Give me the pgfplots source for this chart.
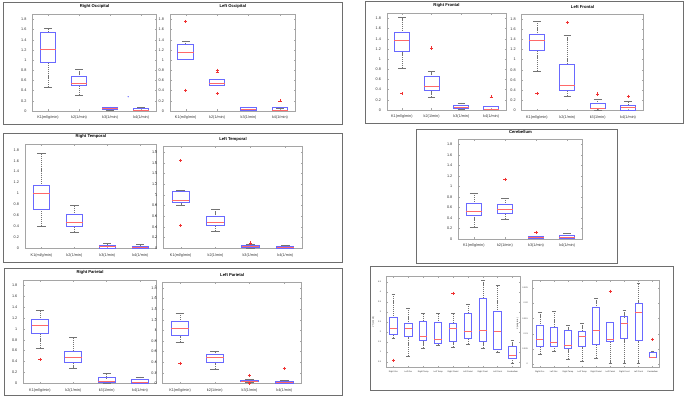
\documentclass[border=0pt]{standalone}
\usepackage{pgfplots}
\pgfplotsset{compat=1.18}
\usepgfplotslibrary{statistics}
\usepackage{fontspec}
\setmainfont{Liberation Sans}
\definecolor{bbox}{RGB}{105,105,255}
\definecolor{rmed}{RGB}{255,105,105}
\definecolor{rout}{RGB}{240,50,50}
\definecolor{wh}{RGB}{115,115,115}
\definecolor{frm}{RGB}{110,110,110}
\definecolor{axc}{RGB}{165,165,165}
\pgfplotsset{
  boxplot/draw/lower whisker/.code={%
    \draw[wh,dash pattern=on 1.2bp off 0.9bp,line width=0.45bp]
      (boxplot box cs:\pgfplotsboxplotvalue{lower whisker},0.5) --
      (boxplot box cs:\pgfplotsboxplotvalue{lower quartile},0.5);
    \draw[wh,line width=0.5bp]
      (boxplot whisker cs:\pgfplotsboxplotvalue{lower whisker},0) --
      (boxplot whisker cs:\pgfplotsboxplotvalue{lower whisker},1);
  },
  boxplot/draw/upper whisker/.code={%
    \draw[wh,dash pattern=on 1.2bp off 0.9bp,line width=0.45bp]
      (boxplot box cs:\pgfplotsboxplotvalue{upper whisker},0.5) --
      (boxplot box cs:\pgfplotsboxplotvalue{upper quartile},0.5);
    \draw[wh,line width=0.5bp]
      (boxplot whisker cs:\pgfplotsboxplotvalue{upper whisker},0) --
      (boxplot whisker cs:\pgfplotsboxplotvalue{upper whisker},1);
  },
  boxplot/draw/box/.code={%
    \draw[bbox,line width=1bp]
      (boxplot box cs:\pgfplotsboxplotvalue{lower quartile},0) rectangle
      (boxplot box cs:\pgfplotsboxplotvalue{upper quartile},1);
  },
  boxplot/draw/median/.code={%
    \draw[rmed,line width=0.9bp]
      (boxplot box cs:\pgfplotsboxplotvalue{median},0) --
      (boxplot box cs:\pgfplotsboxplotvalue{median},1);
  },
  bx/.style={boxplot/draw direction=y, boxplot/box extend=0.5, boxplot/whisker extend=0.25,
    color=rout, mark=+, mark size=1.6bp, mark options={solid, draw=rout, line width=0.5bp}},
  common/.style={
    scale only axis, anchor=south west,
    tick align=inside, major tick length=1.5bp,
    tick style={axc, line width=0.4bp},
    axis line style={axc, line width=0.6bp},
    scaled y ticks=false,
  },
  kax/.style={common,
    xmin=0.5, xmax=4.5, ymin=0, ymax=1.9,
    xtick={1,2,3,4}, xticklabels={K1(ml/g/min),k2(1/min),k3(1/min),k4(1/min)},
    ytick={0,0.2,0.4,0.6,0.8,1,1.2,1.4,1.6,1.8},
    yticklabels={0,0.2,0.4,0.6,0.8,1,1.2,1.4,1.6,1.8},
    ticklabel style={font=\fontsize{3.8}{4}\selectfont, text=black!80},
    xticklabel style={yshift=-1.5bp},
    yticklabel style={xshift=-2.5bp},
    title style={font=\fontsize{4.2}{5}\selectfont\bfseries, yshift=-1.5bp, inner sep=1bp},
  },
  fax/.style={common,
    xmin=0.5, xmax=9.5, xtick={1,2,3,4,5,6,7,8,9},
    xticklabels={Right Occ,Left Occ,Right Temp,Left Temp,Right Pariet,Left Pariet,Right Front,Left Front,Cerebellum},
    ticklabel style={font=\fontsize{2.1}{2.5}\selectfont, text=black!80},
    label style={font=\fontsize{2.1}{2.5}\selectfont, text=black!80},
    xticklabel style={yshift=-0.5bp},
    yticklabel style={xshift=-1.5bp},
    ylabel style={yshift=-3bp},
  },
}
\newcommand{\bx}[7]{\addplot[bx, boxplot prepared={draw position=#1, lower whisker=#2, lower quartile=#3, median=#4, upper quartile=#5, upper whisker=#6}] coordinates {#7};}
\begin{document}
\begin{tikzpicture}
\useasboundingbox (0,0) rectangle (685bp,404bp);
\fill[white] (0,0) rectangle (685bp,404bp);
% panel frames
\draw[frm, line width=0.8bp] (3bp,280bp) rectangle (342bp,402bp);
\draw[frm, line width=0.8bp] (365bp,281bp) rectangle (683bp,403bp);
\draw[frm, line width=0.8bp] (3bp,142bp) rectangle (342bp,271bp);
\draw[frm, line width=0.8bp] (416bp,141bp) rectangle (617bp,275bp);
\draw[frm, line width=0.8bp] (4bp,9bp) rectangle (342bp,136bp);
\draw[frm, line width=0.8bp] (370bp,14bp) rectangle (673bp,138bp);

% Right Occipital
\begin{axis}[kax, at={(32.5bp,293bp)}, width=124.2bp, height=96.7bp, title={Right Occipital}]
\bx{1}{0.47}{0.96}{1.2}{1.55}{1.62}{}
\bx{2}{0.31}{0.5}{0.55}{0.68}{0.82}{}
\bx{3}{0.01}{0.02}{0.045}{0.07}{0.08}{}
\bx{4}{0}{0}{0.006}{0.045}{0.078}{}
\addplot[only marks, mark=*, mark size=0.35bp, bbox] coordinates {(3.58,0.28)};
\end{axis}
% Left Occipital
\begin{axis}[kax, at={(170bp,293bp)}, width=125.7bp, height=96.7bp, title={Left Occipital}]
\bx{1}{1.01}{1.01}{1.15}{1.31}{1.38}{(0,1.76) (0,0.41)}
\bx{2}{0.5}{0.51}{0.54}{0.61}{0.62}{(0,0.8) (0,0.77) (0,0.34)}
\bx{3}{0}{0.01}{0.03}{0.06}{0.08}{}
\bx{4}{0}{0}{0.005}{0.06}{0.06}{(0,0.2)}
\end{axis}
% Right Frontal
\begin{axis}[kax, at={(387bp,294bp)}, width=119bp, height=96.7bp, title={Right Frontal}]
\bx{1}{0.82}{1.15}{1.36}{1.53}{1.82}{(0,0.32)}
\bx{2}{0.26}{0.38}{0.46}{0.66}{0.76}{(0,1.22)}
\bx{3}{0.01}{0.03}{0.05}{0.09}{0.14}{}
\bx{4}{0}{0}{0.02}{0.06}{0.07}{(0,0.26)}
\end{axis}
% Left Frontal
\begin{axis}[kax, at={(521.7bp,293.7bp)}, width=121.6bp, height=96.3bp, title={Left Frontal}]
\bx{1}{0.77}{1.18}{1.37}{1.5}{1.76}{(0,0.33)}
\bx{2}{0.28}{0.39}{0.49}{0.91}{1.48}{(0,1.74)}
\bx{3}{0}{0.03}{0.04}{0.13}{0.22}{(0,0.32)}
\bx{4}{0}{0}{0.05}{0.1}{0.17}{(0,0.28)}
\end{axis}
% Right Temporal
\begin{axis}[kax, at={(25bp,155.7bp)}, width=131.7bp, height=104bp, title={Right Temporal}]
\bx{1}{0.4}{0.71}{1.0}{1.15}{1.73}{}
\bx{2}{0.29}{0.4}{0.47}{0.62}{0.78}{}
\bx{3}{0}{0}{0.03}{0.05}{0.09}{}
\bx{4}{0}{0}{0.01}{0.04}{0.07}{}
\end{axis}
% Left Temporal
\begin{axis}[kax, at={(163.3bp,155.7bp)}, width=139.4bp, height=101.6bp, title={Left Temporal}]
\bx{1}{0.8}{0.85}{0.9}{1.07}{1.09}{(0,1.64) (0,0.43)}
\bx{2}{0.32}{0.42}{0.49}{0.6}{0.73}{}
\bx{3}{0}{0.02}{0.04}{0.06}{0.08}{(0,0.1)}
\bx{4}{0}{0}{0.01}{0.04}{0.06}{}
\end{axis}
% Cerebellum
\begin{axis}[kax, at={(458.3bp,165bp)}, width=124.4bp, height=99.7bp, title={Cerebellum}]
\bx{1}{0.23}{0.45}{0.52}{0.67}{0.88}{}
\bx{2}{0.38}{0.49}{0.56}{0.66}{0.78}{(0,1.14)}
\bx{3}{0}{0}{0.02}{0.05}{0.06}{(0,0.13)}
\bx{4}{0}{0}{0.02}{0.06}{0.11}{}
\end{axis}
% Right Parietal
\begin{axis}[kax, at={(23.3bp,20.7bp)}, width=133.4bp, height=103.3bp, title={Right Parietal}]
\bx{1}{0.65}{0.91}{1.06}{1.18}{1.34}{(0,0.44)}
\bx{2}{0.27}{0.38}{0.47}{0.59}{0.84}{}
\bx{3}{0.01}{0.02}{0.03}{0.1}{0.18}{}
\bx{4}{0}{0}{0.01}{0.07}{0.12}{}
\end{axis}
% Left Parietal
\begin{axis}[kax, at={(162.7bp,20.7bp)}, width=139bp, height=100.6bp, title={Left Parietal}]
\bx{1}{0.78}{0.9}{1.03}{1.16}{1.33}{(0,0.38)}
\bx{2}{0.27}{0.39}{0.48}{0.54}{0.6}{}
\bx{3}{0.02}{0.03}{0.04}{0.05}{0.08}{(0,0.15) (0,0.0)}
\bx{4}{0}{0}{0.02}{0.04}{0.06}{(0,0.28)}
\end{axis}
% Panel F left
\begin{axis}[fax, at={(386bp,36.7bp)}, width=134bp, height=91bp,
  ymin=0.23, ymax=4.8, ytick={0.5,1,1.5,2,2.5,3,3.5,4,4.5},
  yticklabels={0.5,1,1.5,2,2.5,3,3.5,4,4.5}, ylabel={VT(ml/cm3)}]
\bx{1}{1.69}{1.89}{2.19}{2.71}{3.91}{(0,0.59)}
\bx{2}{0.79}{1.77}{2.19}{2.44}{3.21}{}
\bx{3}{1.21}{1.57}{1.79}{2.51}{2.93}{}
\bx{4}{1.34}{1.44}{1.64}{2.46}{2.93}{}
\bx{5}{1.26}{1.54}{2.19}{2.43}{2.93}{(0,3.95)}
\bx{6}{1.39}{1.69}{2.03}{2.91}{3.41}{}
\bx{7}{1.21}{1.54}{2.09}{3.68}{4.6}{}
\bx{8}{1.0}{1.14}{2.04}{3.01}{4.33}{}
\bx{9}{0.44}{0.65}{0.84}{1.29}{1.59}{}
\end{axis}
% Panel F right
\begin{axis}[fax, at={(532.7bp,36.7bp)}, width=127bp, height=87bp,
  ymin=-0.001, ymax=0.0275, ytick={0,0.005,0.01,0.015,0.02,0.025},
  yticklabels={0,0.005,0.01,0.015,0.02,0.025}, ylabel={Ki(ml/g/min)}]
\bx{1}{0.00317}{0.0059}{0.00819}{0.01255}{0.01703}{}
\bx{2}{0.00426}{0.0059}{0.0072}{0.012}{0.01747}{}
\bx{3}{0.00175}{0.00513}{0.00622}{0.01114}{0.01277}{}
\bx{4}{0.00098}{0.00579}{0.00917}{0.01081}{0.01343}{}
\bx{5}{0.00186}{0.00633}{0.01092}{0.01867}{0.02162}{}
\bx{6}{0.0002}{0.00731}{0.00819}{0.01365}{0.01387}{(0,0.0239)}
\bx{7}{0.0002}{0.00852}{0.01332}{0.01561}{0.01769}{}
\bx{8}{0.0002}{0.00775}{0.01681}{0.01987}{0.02642}{}
\bx{9}{0.00218}{0.00218}{0.00229}{0.00382}{0.00437}{(0,0.00819)}
\end{axis}
\end{tikzpicture}
\end{document}
